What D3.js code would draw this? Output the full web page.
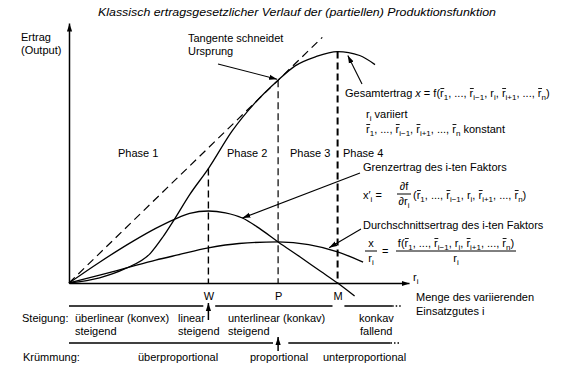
<!DOCTYPE html>
<html>
<head>
<meta charset="utf-8">
<script src="https://cdn.jsdelivr.net/npm/d3@7"></script>
<style>
  body { margin: 0; background: #fff; }
  svg { display: block; font-family: "Liberation Sans", Arial, sans-serif; font-size: 11px; }
</style>
</head>
<body>
<svg width="577" height="378"></svg>
<script>
// values (r = amount of the variable input, x = output)
const rTotal = [0, 0.9, 1.65, 2.4, 2.75, 3.1, 3.55, 4.1, 4.8, 5.45, 6.15, 6.65, 7.25, 7.9, 8.55, 9.0];
const xTotal = [0, 0.2, 0.55, 1.15, 1.75, 2.45, 3.4, 4.4, 5.85, 6.9, 7.8, 8.35, 8.7, 8.9, 8.75, 8.4];

const rMarginal = [0, 0.9, 1.9, 2.55, 3.1, 3.55, 4.1, 4.6, 5.1, 5.6, 6.15, 6.8, 7.4, 7.9, 8.4];
const xMarginal = [0, 0.8, 1.62, 2.1, 2.45, 2.68, 2.77, 2.7, 2.5, 2.1, 1.58, 1.0, 0.45, 0, -0.5];

const rAverage = [0, 0.9, 1.8, 2.55, 3.2, 4.1, 5.0, 6.15, 7.05, 7.9, 8.65];
const xAverage = [0, 0.3, 0.62, 0.88, 1.08, 1.35, 1.52, 1.58, 1.48, 1.2, 0.8];

// W = inflection, P = tangent through origin, M = maximum
const markVals = [4.1, 6.15, 7.9];
const markLabels = ["W", "P", "M"];
const tangentEnd = 7.45;

const phaseLabels = ["Phase 1", "Phase 2", "Phase 3", "Phase 4"];

// ranges of r covered by the brace lines below the axis
const steigungRanges = [[0, 3.95], [4.3, 7.75], [8.1, 9.8]];
const kruemmungRanges = [[0, 6.0], [6.45, 9.75]];

const svg = d3.select("svg");

const x = d3.scaleLinear().domain([0, 10]).range([69, 409]);
const y = d3.scaleLinear().domain([0, 10]).range([283, 23]);

svg.append("defs").append("marker")
    .attr("id", "head")
    .attr("viewBox", "0 -3 8 6")
    .attr("refX", 8).attr("refY", 0)
    .attr("markerWidth", 8).attr("markerHeight", 6)
    .attr("markerUnits", "userSpaceOnUse")
    .attr("orient", "auto")
  .append("path")
    .attr("d", "M0,-2.6L8,0L0,2.6Z")
    .attr("fill", "#000");

// rich text: _{..} subscript, *..* italic, ~..~ gets a bar (drawn afterwards)
function rich(sel, s) {
  let shift = 0;
  s.split(/(_\{[^}]*\}|\*[^*]+\*|~[^~]+~)/).filter(p => p).forEach(p => {
    const sub = p.startsWith("_{");
    const ital = p.startsWith("*");
    const bar = p.startsWith("~");
    const t = sel.append("tspan").text(sub ? p.slice(2, -1) : (ital || bar) ? p.slice(1, -1) : p);
    const want = sub ? 3 : 0;
    if (want !== shift) t.attr("dy", want - shift);
    if (sub) t.attr("font-size", "8px");
    if (ital) t.attr("font-style", "italic");
    if (bar) t.classed("bar", true);
    shift = want;
  });
  return sel;
}

function label(s, px, py, anchor) {
  const t = svg.append("text").attr("x", px).attr("y", py);
  if (anchor) t.attr("text-anchor", anchor);
  return rich(t, s);
}

function arrow(x1, y1, x2, y2, w) {
  svg.append("line")
      .attr("x1", x1).attr("y1", y1).attr("x2", x2).attr("y2", y2)
      .attr("stroke", "#000").attr("stroke-width", w || 1.1)
      .attr("marker-end", "url(#head)");
}

const fTotal = d3.scaleLinear().domain(rTotal).range(xTotal);
const fMarginal = d3.scaleLinear().domain(rMarginal).range(xMarginal);
const fAverage = d3.scaleLinear().domain(rAverage).range(xAverage);

// title
svg.append("text")
    .attr("x", 98).attr("y", 16)
    .attr("font-style", "italic")
    .attr("font-size", "11px")
    .attr("textLength", 398)
    .attr("lengthAdjust", "spacingAndGlyphs")
    .text("Klassisch ertragsgesetzlicher Verlauf der (partiellen) Produktionsfunktion");

// axes
const xAxis = svg.append("g")
    .attr("transform", `translate(0,${y(0)})`)
    .call(d3.axisBottom(x).tickValues(markVals).tickFormat((d, i) => markLabels[i])
      .tickSize(0).tickSizeOuter(0).tickPadding(9));
xAxis.attr("font-size", 11).attr("font-family", null);
xAxis.select(".domain").attr("stroke-width", 1.5).attr("marker-end", "url(#head)");

const yAxis = svg.append("g")
    .attr("transform", `translate(${x(0)},0)`)
    .call(d3.axisLeft(y).tickValues([]).tickSizeOuter(0));
yAxis.select(".domain").attr("stroke-width", 1.5).attr("marker-end", "url(#head)");

label("Ertrag", 21, 41);
label("(Output)", 21, 54);
label("r_{i}", 413, 281);
label("Menge des variierenden", 416, 301);
label("Einsatzgutes i", 416, 315);

// dashed verticals at W, P, M
const dashW = [1.4, 1.2, 2];
svg.selectAll(".vline")
  .data(markVals)
  .join("line")
    .attr("x1", d => x(d)).attr("x2", d => x(d))
    .attr("y1", d => y(fTotal(d))).attr("y2", y(0))
    .attr("stroke", "#000")
    .attr("stroke-width", (d, i) => dashW[i])
    .attr("stroke-dasharray", "7,4");

// tangent through origin
const slope = fTotal(markVals[1]) / markVals[1];
svg.append("line")
    .attr("x1", x(0)).attr("y1", y(0))
    .attr("x2", x(tangentEnd)).attr("y2", y(slope * tangentEnd))
    .attr("stroke", "#000").attr("stroke-width", 1.2)
    .attr("stroke-dasharray", "8,5");

// curves
const line = d3.line()
    .x(d => x(d[0]))
    .y(d => y(d[1]))
    .curve(d3.curveMonotoneX);

[[rTotal, xTotal], [rMarginal, xMarginal], [rAverage, xAverage]].forEach(([rs, vs]) => {
  svg.append("path")
      .datum(d3.zip(rs, vs))
      .attr("d", line)
      .attr("fill", "none")
      .attr("stroke", "#000")
      .attr("stroke-width", 1.3);
});

// phase labels
const phaseX = [118, 227, 290, 343];
phaseLabels.forEach((p, i) => label(p, phaseX[i], 157));

// annotations
label("Tangente schneidet", 188, 42);
label("Ursprung", 188, 55);
arrow(218, 64, x(markVals[1]) - 1, y(fTotal(markVals[1])) - 1);

arrow(362, 84, x(8.2), y(fTotal(8.2)) + 2);
label("Gesamtertrag *x* = f(~r~_{1}, ..., ~r~_{i\u22121}, r_{i}, ~r~_{i+1}, ..., ~r~_{n})", 345, 97);
label("r_{i} variiert", 366, 118);
label("~r~_{1}, ..., ~r~_{i\u22121}, ~r~_{i+1}, ..., ~r~_{n} konstant", 366, 133);

label("Grenzertrag des i-ten Faktors", 363, 171);
arrow(360, 173, x(5.1), y(fMarginal(5.1)));
label("x\u2032_{i} =", 363, 199);
label("\u2202f", 404, 190, "middle");
svg.append("line").attr("x1", 397).attr("x2", 411).attr("y1", 194).attr("y2", 194).attr("stroke", "#000");
label("\u2202r_{i}", 404, 205, "middle");
label("(~r~_{1}, ..., ~r~_{i\u22121}, r_{i}, ~r~_{i+1}, ..., ~r~_{n})", 413, 199);

label("Durchschnittsertrag des i-ten Faktors", 363, 229);
arrow(361, 229, x(7.65), y(fAverage(7.65)) - 2);
label("x", 371, 247, "middle");
svg.append("line").attr("x1", 365).attr("x2", 377).attr("y1", 251).attr("y2", 251).attr("stroke", "#000");
label("r_{i}", 371, 262, "middle");
label("=", 382, 255);
label("f(~r~_{1}, ..., ~r~_{i\u22121}, r_{i}, ~r~_{i+1}, ..., ~r~_{n})", 456, 247, "middle");
svg.append("line").attr("x1", 396).attr("x2", 516).attr("y1", 251).attr("y2", 251).attr("stroke", "#000");
label("r_{i}", 456, 262, "middle");

// bars over the fixed r's, placed just above the x-height
svg.selectAll("tspan.bar").each(function () {
  const p = this.getStartPositionOfChar(0);
  const w = this.getComputedTextLength();
  svg.append("line")
      .attr("x1", p.x + 0.3).attr("x2", p.x + w + 0.5)
      .attr("y1", p.y - 8.5).attr("y2", p.y - 8.5)
      .attr("stroke", "#000").attr("stroke-width", 0.9);
});

// brace lines under the axis
function braceRow(ranges, py) {
  ranges.forEach((r, i) => {
    const last = i === ranges.length - 1 && i > 0;
    const solidEnd = last ? x(r[1]) - 10 : x(r[1]);
    svg.append("line")
        .attr("x1", x(r[0])).attr("x2", solidEnd)
        .attr("y1", py).attr("y2", py)
        .attr("stroke", "#000").attr("stroke-width", 1.3);
    if (last) {
      svg.append("line")
          .attr("x1", solidEnd).attr("x2", x(r[1]))
          .attr("y1", py).attr("y2", py)
          .attr("stroke", "#000").attr("stroke-width", 1.3)
          .attr("stroke-dasharray", "1.5,2");
    }
  });
}
braceRow(steigungRanges, 306);
braceRow(kruemmungRanges, 343);
arrow(x(markVals[0]), 320, x(markVals[0]), 303, 1.5);
arrow(x(markVals[1]), 351, x(markVals[1]), 337, 1.5);

label("Steigung:", 22, 322);
label("überlinear (konvex)", 75, 322);
label("steigend", 75, 335);
label("linear", 178, 322);
label("steigend", 178, 335);
label("unterlinear (konkav)", 228, 322);
label("steigend", 228, 335);
label("konkav", 359, 322);
label("fallend", 360, 335);

label("Krümmung:", 23, 361);
label("überproportional", 138, 361);
label("proportional", 250, 361);
label("unterproportional", 323, 361);
</script>
</body>
</html>
